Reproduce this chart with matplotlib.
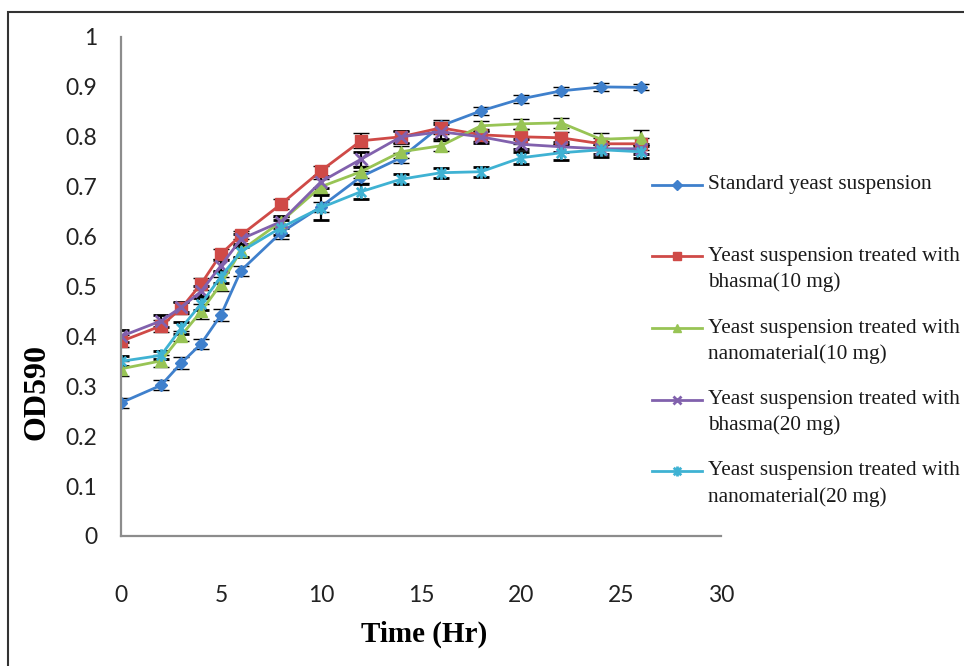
import numpy as np
import matplotlib.pyplot as plt
from matplotlib.lines import Line2D
from matplotlib.patches import Rectangle
from matplotlib.path import Path

# =========================
# DATA
# =========================

time_hr = [0, 2, 3, 4, 5, 6, 8, 10, 12, 14, 16, 18, 20, 22, 24, 26]

standard = [0.267, 0.302, 0.346, 0.385, 0.443, 0.532, 0.608, 0.660, 0.720, 0.758,
            0.822, 0.852, 0.876, 0.892, 0.900, 0.899]
bhasma_10 = [0.390, 0.421, 0.456, 0.505, 0.565, 0.603, 0.665, 0.732, 0.792, 0.800,
             0.818, 0.804, 0.800, 0.798, 0.786, 0.786]
nano_10 = [0.335, 0.351, 0.401, 0.450, 0.505, 0.572, 0.630, 0.700, 0.730, 0.770,
           0.782, 0.822, 0.826, 0.828, 0.795, 0.798]
bhasma_20 = [0.400, 0.431, 0.458, 0.490, 0.542, 0.595, 0.630, 0.710, 0.755, 0.800,
             0.810, 0.800, 0.785, 0.780, 0.776, 0.776]
nano_20 = [0.350, 0.362, 0.416, 0.465, 0.520, 0.570, 0.618, 0.658, 0.690, 0.715,
           0.728, 0.730, 0.758, 0.768, 0.774, 0.770]

err_standard = [0.010, 0.010, 0.012, 0.010, 0.012, 0.010, 0.012, 0.010, 0.012, 0.010,
                0.012, 0.008, 0.008, 0.008, 0.008, 0.006]
err_bhasma_10 = [0.012, 0.012, 0.012, 0.012, 0.010, 0.008, 0.010, 0.010, 0.015, 0.012,
                 0.012, 0.012, 0.015, 0.012, 0.012, 0.012]
err_nano_10 = [0.015, 0.012, 0.010, 0.015, 0.015, 0.012, 0.010, 0.015, 0.012, 0.012,
               0.010, 0.010, 0.010, 0.010, 0.012, 0.015]
err_bhasma_20 = [0.012, 0.012, 0.010, 0.010, 0.012, 0.010, 0.012, 0.012, 0.015, 0.012,
                 0.015, 0.012, 0.010, 0.010, 0.010, 0.010]
err_nano_20 = [0.010, 0.008, 0.012, 0.012, 0.012, 0.010, 0.015, 0.025, 0.015, 0.010,
               0.010, 0.010, 0.012, 0.015, 0.015, 0.012]

labels = [
    ["Standard yeast suspension"],
    ["Yeast suspension treated with", "bhasma(10 mg)"],
    ["Yeast suspension treated with", "nanomaterial(10 mg)"],
    ["Yeast suspension treated with", "bhasma(20 mg)"],
    ["Yeast suspension treated with", "nanomaterial(20 mg)"],
]

x_ticks = [0, 5, 10, 15, 20, 25, 30]
y_ticks = [0, 0.1, 0.2, 0.3, 0.4, 0.5, 0.6, 0.7, 0.8, 0.9, 1]
y_tick_labels = ["0", "0.1", "0.2", "0.3", "0.4", "0.5", "0.6", "0.7", "0.8", "0.9", "1"]

# =========================
# STYLES
# =========================

# Excel-style star: x with a vertical stroke
star = Path([(0, -1), (0, 1), (-0.75, -0.75), (0.75, 0.75), (-0.75, 0.75), (0.75, -0.75)],
            [Path.MOVETO, Path.LINETO, Path.MOVETO, Path.LINETO, Path.MOVETO, Path.LINETO])

series = [standard, bhasma_10, nano_10, bhasma_20, nano_20]
errors = [err_standard, err_bhasma_10, err_nano_10, err_bhasma_20, err_nano_20]
colors = ["#3f80cc", "#cf4a47", "#98c455", "#8161ad", "#3fb2d3"]
markers = ["D", "s", "^", "x", star]
msizes = [6, 8, 8, 8, 9]
mews = [1, 1, 1, 2, 2]

W, H = 964, 666

fig = plt.figure(figsize=(W / 100, H / 100), dpi=100)
ax = fig.add_axes([121 / W, 1 - 536 / H, 600 / W, 499 / H])

for y, e, c, m, ms, mw in zip(series, errors, colors, markers, msizes, mews):
    ax.errorbar(time_hr, y, yerr=e, color=c, marker=m, markersize=ms,
                markeredgewidth=mw, markeredgecolor=c, linewidth=2,
                ecolor="black", elinewidth=1.6, capsize=6, capthick=2.2)

ax.set_xlim(0, 30)
ax.set_ylim(0, 1)
ax.set_xticks(x_ticks)
ax.set_yticks(y_ticks)
ax.set_yticklabels(y_tick_labels)

for s in ["top", "right"]:
    ax.spines[s].set_visible(False)
for s in ["left", "bottom"]:
    ax.spines[s].set_color("#8c8c8c")
    ax.spines[s].set_linewidth(1.6)

ax.tick_params(axis="both", length=0, labelsize=16.5, colors="#222222")
ax.tick_params(axis="x", pad=35)
ax.tick_params(axis="y", pad=17)
for lbl in ax.get_xticklabels() + ax.get_yticklabels():
    lbl.set_fontfamily("Lato")

# axis titles
fig.text(37 / W, 1 - 392 / H, "OD590", rotation=90, ha="center", va="center",
         family="Liberation Serif", weight="bold", fontsize=23)
fig.text(424 / W, 1 - 634 / H, "Time (Hr)", ha="center", va="center",
         family="Liberation Serif", weight="bold", fontsize=21)

# =========================
# LEGEND (marker on first line)
# =========================

for i, (lab, c, m, ms, mw) in enumerate(zip(labels, colors, markers, msizes, mews)):
    yp = 1 - (185 + 71.5 * i) / H
    fig.add_artist(Line2D([652 / W, 677 / W, 702 / W], [yp, yp, yp],
                          transform=fig.transFigure, color=c, linewidth=2,
                          marker=m, markevery=[1], markersize=ms * 0.8,
                          markeredgecolor=c, markeredgewidth=mw))
    for j, line in enumerate(lab):
        fig.text(708 / W, yp - j * 26 / H, line, ha="left", va="center",
                 family="Liberation Serif", fontsize=15.3, color="#1a1a1a")

# outer frame
fig.patches.append(Rectangle((8 / W, -0.05), 1.0, 1 - 12 / H + 0.05,
                             transform=fig.transFigure, fill=False,
                             edgecolor="#333333", linewidth=1.5))

fig.savefig("out.png", dpi=100)
